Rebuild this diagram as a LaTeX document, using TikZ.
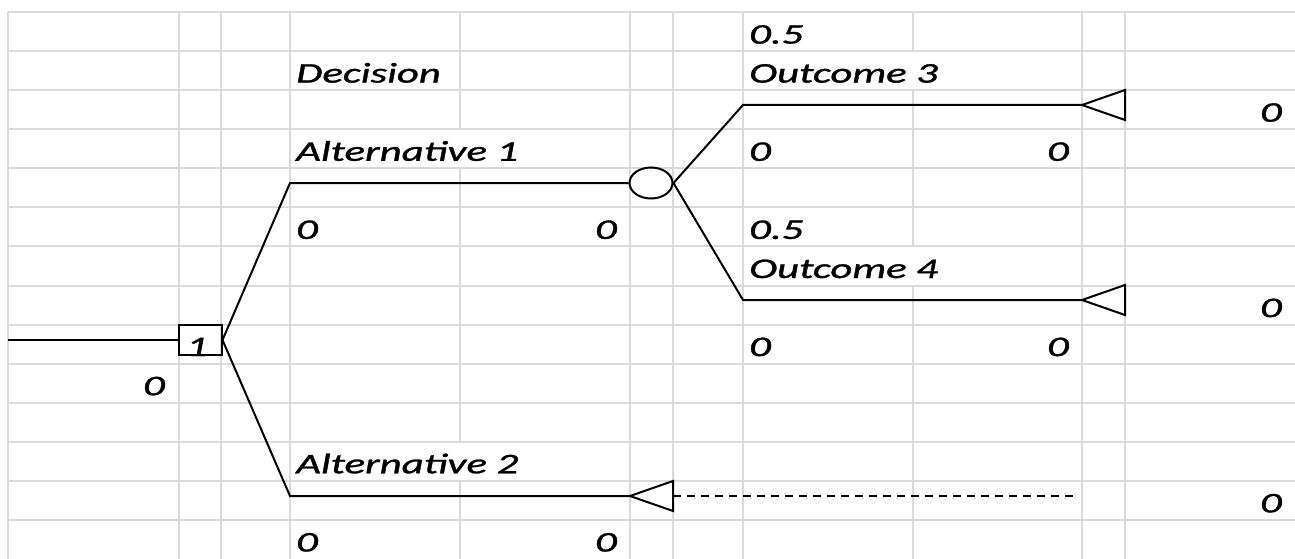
\documentclass[tikz,border=0pt]{standalone}
\usepackage{fontspec}
\setmainfont{Carlito}
\newfontfamily\cellfont{Carlito}[ItalicFeatures={FakeBold=1}]
\usepackage{xcolor}
\usepackage{tikz}
\usetikzlibrary{shapes.geometric,positioning}

\definecolor{gridgray}{HTML}{DADADA}
\newcommand{\cell}[1]{\scalebox{1.5}[1]{#1}}

\begin{document}
\begin{tikzpicture}[x=1pt,y=-1pt,
    grid/.style={draw=gridgray, line width=2pt},
    branch/.style={line width=2pt},
    lbl/.style={inner sep=0pt, font=\fontsize{28.5}{30}\cellfont\itshape},
    decbox/.style={draw, rectangle, line width=2pt, minimum width=43pt, minimum height=30pt, inner sep=0pt},
    chance/.style={draw, ellipse, line width=2pt, minimum width=43pt, minimum height=31pt, inner sep=0pt}]
    \fill[white] (0,0) rectangle (1295,559);
    \useasboundingbox (0,0) rectangle (1295,559);

    % sheet grid
    \foreach \y in {12,51.1,90.1,129.2,168.3,207.4,246.4,285.5,324.6,363.6,402.7,441.8,480.8,519.9} {
        \draw[grid] (8,\y) -- (1295,\y);
    }
    \foreach \x in {8,179,221,290,630,673,743,1082,1125} {
        \draw[grid] (\x,12) -- (\x,559);
    }
    \draw[grid] (460,12) -- (460,129.2) (460,168.3) -- (460,441.8) (460,480.8) -- (460,559);
    \draw[grid] (913,12) -- (913,51.1) (913,90.1) -- (913,246.4) (913,285.5) -- (913,559);

    % tree
    \node[decbox] (dec) at (200,340) {};
    \node[chance] (ch) at (651,183) {};
    \coordinate (in) at (8,340);
    \coordinate (a1) at (290,183);
    \coordinate (a2) at (290,496);
    \coordinate (o3) at (743,105);
    \coordinate (o4) at (743,300);
    \coordinate (t3) at (1082,105);
    \coordinate (t4) at (1082,300);
    \coordinate (t2) at (630,496);
    \coordinate (t2b) at (673,496);
    \coordinate (pend) at (1075,496);

    \draw[branch] (in) -- (dec.west);
    \draw[branch] (dec.east) -- (a1) -- (ch.west);
    \draw[branch] (dec.east) -- (a2) -- (t2);
    \draw[branch] (ch.east) -- (o3) -- (t3);
    \draw[branch] (ch.east) -- (o4) -- (t4);
    \foreach \t in {t3,t4,t2} {
        \draw[branch, line join=miter] (\t) -- ++(43,-15) -- ++(0,30) -- cycle;
    }
    \draw[branch, dash pattern=on 8pt off 6pt] (t2b) -- (pend);

    % cell texts
    \node[lbl, anchor=base west] (p3) at (749,43.6) {\cell{0.5}};
    \node[lbl, anchor=base west] (dtitle) at (296,82.6) {\cell{Decision}};
    \node[lbl, anchor=base west] (o3lbl) at (749,82.6) {\cell{Outcome 3}};
    \node[lbl, anchor=base east] (v3) at (1282,121.7) {\cell{0}};
    \node[lbl, anchor=base west] (a1lbl) at (296,160.8) {\cell{Alternative 1}};
    \node[lbl, anchor=base west] (c3) at (749,160.8) {\cell{0}};
    \node[lbl, anchor=base east] (e3) at (1069,160.8) {\cell{0}};
    \node[lbl, anchor=base west] (c1) at (296,238.9) {\cell{0}};
    \node[lbl, anchor=base east] (e1) at (617,238.9) {\cell{0}};
    \node[lbl, anchor=base west] (p4) at (749,238.9) {\cell{0.5}};
    \node[lbl, anchor=base west] (o4lbl) at (749,278) {\cell{Outcome 4}};
    \node[lbl, anchor=base east] (v4) at (1282,317.1) {\cell{0}};
    \node[lbl, anchor=base west] (dnum) at (186,356.1) {\cell{1}};
    \node[lbl, anchor=base west] (c4) at (749,356.1) {\cell{0}};
    \node[lbl, anchor=base east] (e4) at (1069,356.1) {\cell{0}};
    \node[lbl, anchor=base east] (ev) at (165,395.2) {\cell{0}};
    \node[lbl, anchor=base west] (a2lbl) at (296,473.3) {\cell{Alternative 2}};
    \node[lbl, anchor=base east] (v2) at (1282,512.4) {\cell{0}};
    \node[lbl, anchor=base west] (c2) at (296,551.5) {\cell{0}};
    \node[lbl, anchor=base east] (e2) at (617,551.5) {\cell{0}};
\end{tikzpicture}
\end{document}
